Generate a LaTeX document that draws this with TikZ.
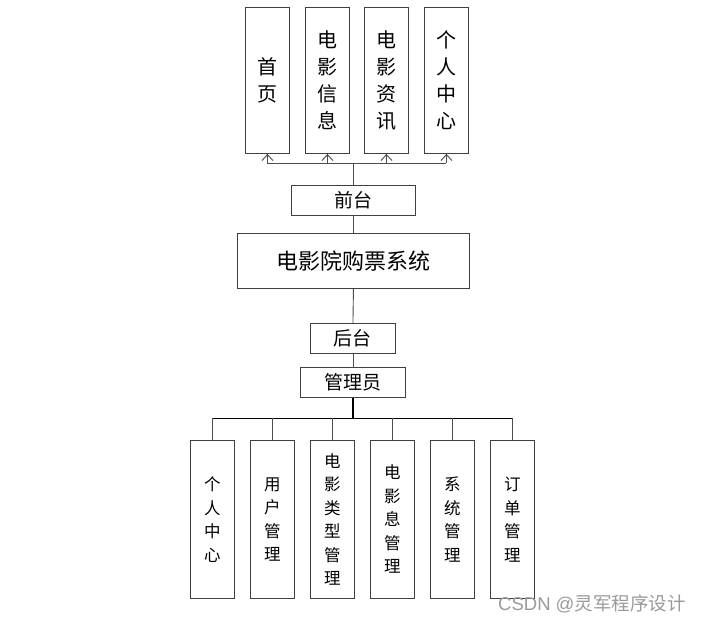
\documentclass[tikz,border=0pt]{standalone}
\usepackage{fontspec}
\setmainfont{Noto Sans CJK SC}
\newfontfamily\wmfont{Noto Sans CJK SC}
\newfontfamily\wmlat{Liberation Sans}
\usetikzlibrary{arrows.meta}
\tikzset{
  box/.style={draw=black!75, line width=0.9pt, inner sep=0pt, anchor=north west},
  topbox/.style={box, minimum width=44pt, minimum height=146pt, align=center, font=\fontsize{20}{27}\selectfont},
  botbox/.style={box, minimum width=44pt, minimum height=158pt, align=center, font=\fontsize{16.5}{23.5}\selectfont},
  hbox/.style={box, align=center, font=\fontsize{19}{22}\selectfont},
  conn/.style={draw=black!70, line width=0.9pt},
  arr/.style={conn, -{Straight Barb[length=6pt,width=11pt]}},
}
\begin{document}
\begin{tikzpicture}[x=1pt,y=-1pt]
\useasboundingbox (0,0) rectangle (705,622);
% top boxes
\node[topbox] (t1) at (245,7) {首\\页};
\node[topbox] (t2) at (305,7) {电\\影\\信\\息};
\node[topbox] (t3) at (364,7) {电\\影\\资\\讯};
\node[topbox] (t4) at (424,7) {个\\人\\中\\心};
% front
\node[hbox, minimum width=124pt, minimum height=30pt] (front) at (291,185) {前台};
\node[hbox, minimum width=232pt, minimum height=55pt, font=\fontsize{22}{24}\selectfont] (sys) at (237,233) {电影院购票系统};
\node[hbox, minimum width=85pt, minimum height=30pt] (back) at (310,323) {后台};
\node[hbox, minimum width=105pt, minimum height=30pt] (admin) at (300,367) {管理员};
% bottom boxes
\node[botbox] (b1) at (190,440) {个\\人\\中\\心};
\node[botbox] (b2) at (250,440) {用\\户\\管\\理};
\node[botbox] (b3) at (310,440) {电\\影\\类\\型\\管\\理};
\node[botbox] (b4) at (370,440) {电\\影\\息\\管\\理};
\node[botbox] (b5) at (430,440) {系\\统\\管\\理};
\node[botbox] (b6) at (490,440) {订\\单\\管\\理};
% connectors top
\coordinate (hj) at (front.north |- 0,163);
\draw[conn] (front.north) -- (hj);
\draw[conn] (t1.south |- hj) -- (t4.south |- hj);
\foreach \t in {t1,t2,t3,t4} \draw[arr] (\t.south |- hj) -- (\t.south);
\draw[conn] (front.south) -- (sys.north);
\draw[conn] (sys.south) -- (back.north);
\draw[conn] (back.south) -- (admin.south |- back.south) -- (admin.north);
% bottom connectors
\coordinate (bj) at (admin.south |- 0,418);
\draw[line width=1.5pt] (admin.south) -- (bj);
\draw[conn, draw=black] (b1.north |- bj) -- (b6.north |- bj);
\foreach \b in {b1,b2,b3,b4,b5,b6} \draw[conn] (\b.north |- bj) -- (\b.north);
% watermark
\node[anchor=west, text=black!40, font=\wmfont\fontsize{18.5}{20}\selectfont, inner sep=0pt] (wm) at (498,604) {{\wmlat CSDN @}灵军程序设计};
\end{tikzpicture}
\end{document}
